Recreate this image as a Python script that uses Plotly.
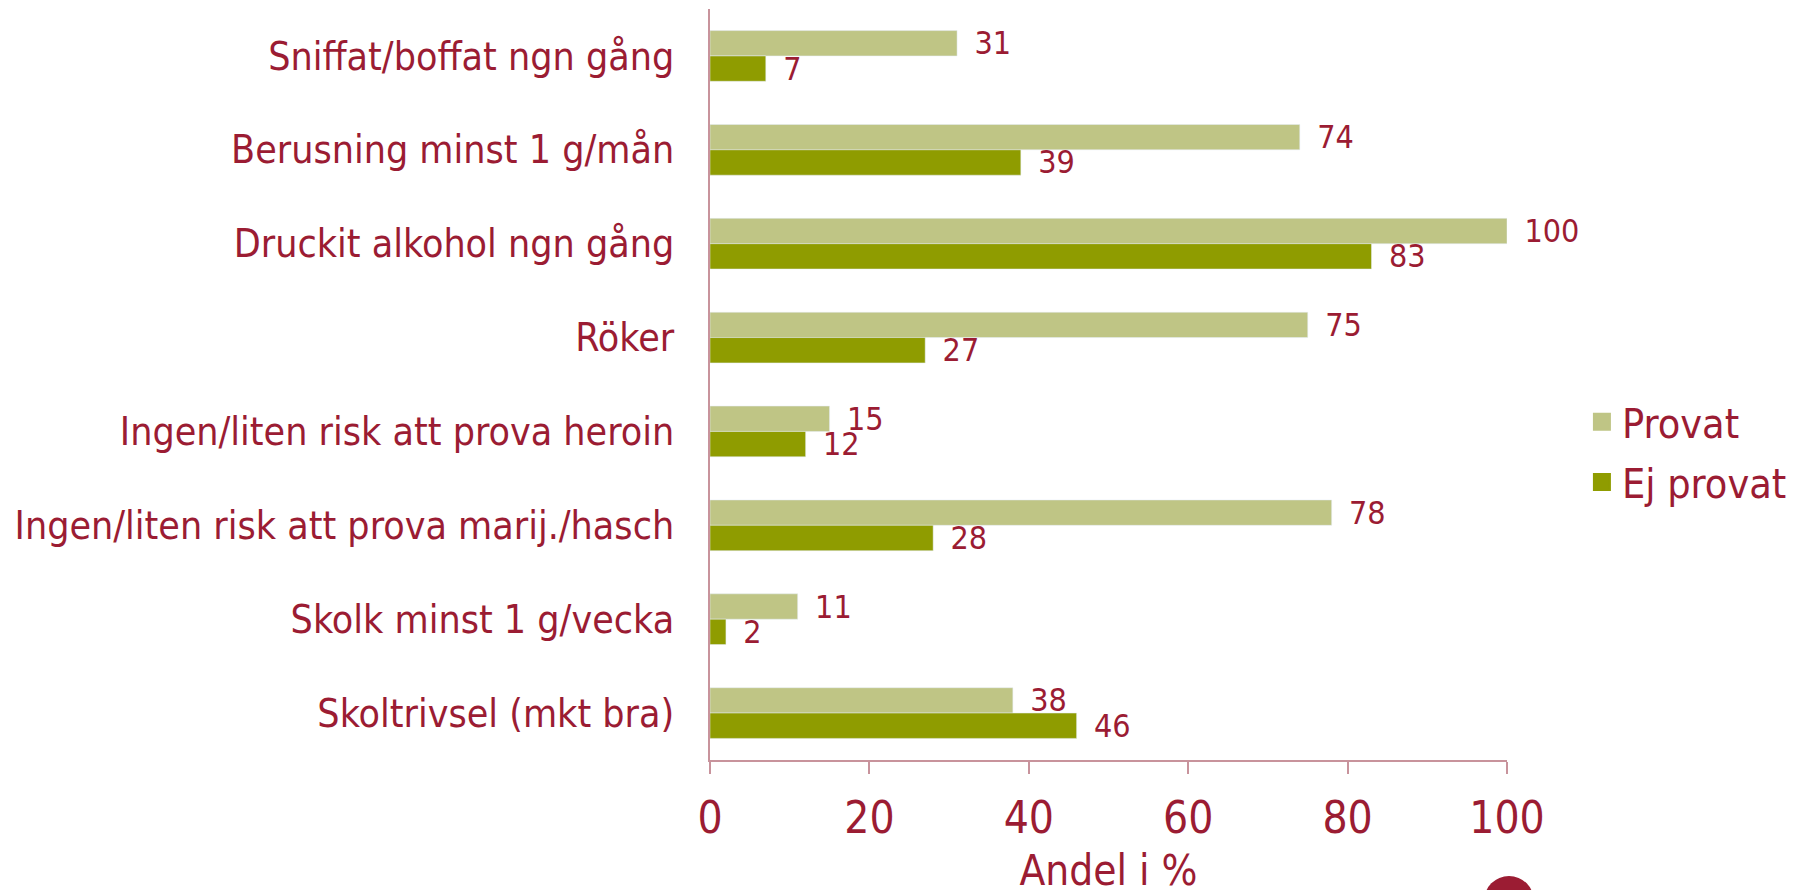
import plotly.graph_objects as go

# Kategorier (uppifrån och ned) och andelar i %
kategorier = [
    "Sniffat/boffat ngn gång",
    "Berusning minst 1 g/mån",
    "Druckit alkohol ngn gång",
    "Röker",
    "Ingen/liten risk att prova heroin",
    "Ingen/liten risk att prova marij./hasch",
    "Skolk minst 1 g/vecka",
    "Skoltrivsel (mkt bra)",
]
provat = [31, 74, 100, 75, 15, 78, 11, 38]
ej_provat = [7, 39, 83, 27, 12, 28, 2, 46]
x_ticks = [0, 20, 40, 60, 80, 100]

TEXT_RED = "#9B1C33"
AXIS_COL = "#C8939C"
FONT = "DejaVu Sans Condensed, DejaVu Sans"
serier = [("Provat", provat, "#BFC585"), ("Ej provat", ej_provat, "#8F9C00")]

fig = go.Figure()
for namn, varden, farg in serier:
    fig.add_trace(go.Bar(
        name=namn, y=kategorier, x=varden, orientation="h",
        marker=dict(color=farg), showlegend=False,
        text=varden, texttemplate="\u2002%{x}", textposition="outside",
        textfont=dict(size=32, color=TEXT_RED, family=FONT),
        cliponaxis=False, constraintext="none",
    ))

# legendposter med större kvadrater
for namn, varden, farg in serier:
    fig.add_trace(go.Scatter(
        name=namn, x=[None], y=[None], mode="markers", legendgroup=namn,
        marker=dict(symbol="square", size=16, color=farg, line=dict(color=farg, width=2)),
    ))

fig.update_layout(
    width=1812, height=890,
    margin=dict(l=702, r=313, t=1, b=138, autoexpand=False),
    barmode="group", bargap=0.46, bargroupgap=0,
    plot_bgcolor="white", paper_bgcolor="white",
    font=dict(family=FONT, color=TEXT_RED),
    legend=dict(
        x=1.094, y=0.41, xanchor="left", yanchor="middle",
        font=dict(size=41, color=TEXT_RED, family=FONT),
        traceorder="grouped", tracegroupgap=4, bgcolor="rgba(0,0,0,0)",
    ),
    showlegend=True,
)

fig.update_xaxes(
    range=[0, 100], tickvals=x_ticks, showgrid=False, zeroline=False,
    showline=True, linecolor=AXIS_COL, linewidth=2, automargin=False,
    ticks="outside", ticklen=12, tickcolor=AXIS_COL, tickwidth=2,
    tickfont=dict(size=44, color=TEXT_RED, family=FONT),
    ticklabelstandoff=6,
    title=dict(text="Andel i %", font=dict(size=42, color=TEXT_RED, family=FONT), standoff=14),
)
fig.update_yaxes(
    autorange="reversed", showgrid=False, zeroline=False,
    showline=True, linecolor=AXIS_COL, linewidth=2, ticks="", automargin=False,
    tickfont=dict(size=39, color=TEXT_RED, family=FONT),
    ticklabelstandoff=26,
)

# dekorativ cirkel nere till höger
fig.add_shape(
    type="circle", xref="paper", yref="paper",
    x0=1.0025 - 0.0314, x1=1.0025 + 0.0314, y0=-0.1878 - 0.0333, y1=-0.1878 + 0.0333,
    fillcolor="#9B1C33", line=dict(width=0), layer="above",
)

fig.write_html("out.html")
